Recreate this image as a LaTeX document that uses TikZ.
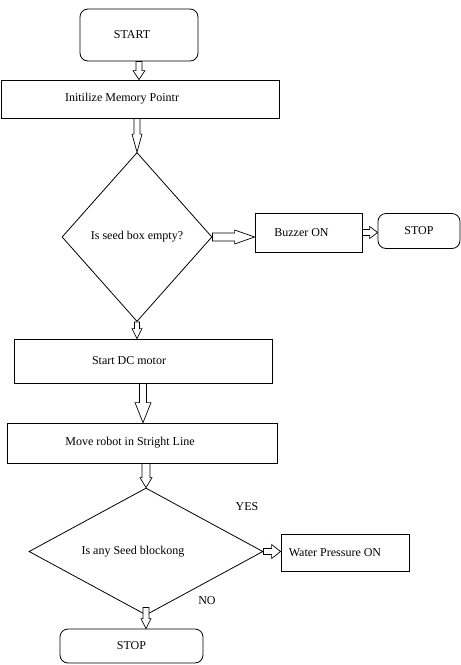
\documentclass[tikz,border=0pt]{standalone}
\usepackage{fontspec}
\setmainfont{Liberation Serif}
\newfontfamily\flowfont{Liberation Serif}
\usetikzlibrary{shapes.geometric, calc, positioning}

\tikzset{
  box/.style={draw, rectangle, line width=0.8pt, inner sep=0pt},
  terminal/.style={box, rounded corners=8pt},
  decision/.style={draw, diamond, line width=0.8pt, inner sep=0pt},
  arrowbody/.style={draw, fill=white, line width=0.7pt, line join=miter}
}

% hollow block arrow: from, to, half shaft, half head, head length
\newcommand{\hollowarrow}[5]{%
  \coordinate (ha) at (#1);
  \coordinate (hb) at (#2);
  \coordinate (hh) at ($(hb)!#5!(ha)$);
  \draw[arrowbody] ($(ha)!#3!90:(hb)$) -- ($(hh)!#3!-90:(ha)$) -- ($(hh)!#4!-90:(ha)$)
    -- (hb) -- ($(hh)!#4!90:(ha)$) -- ($(hh)!#3!90:(ha)$) -- ($(ha)!#3!-90:(hb)$) -- cycle;
}

\begin{document}
\begin{tikzpicture}[x=1pt, y=-1pt, every node/.style={font=\flowfont\fontsize{12}{14}\selectfont}]
    \useasboundingbox (0,0) rectangle (461,665);

    % boxes
    \node[terminal, minimum width=118pt, minimum height=52pt] (start) at (139,35) {START\kern14pt};
    \node[box, minimum width=278pt, minimum height=38pt] (init) at (140,99) {Initilize Memory Pointr\kern36pt};
    \node[decision, minimum width=150pt, minimum height=169pt] (seed) at (137,237) {Is seed box empty?};
    \node[box, minimum width=107pt, minimum height=39pt] (buzzer) at (308.5,232.5) {Buzzer ON\kern14pt};
    \node[terminal, minimum width=82pt, minimum height=35pt] (stopa) at (419,231) {STOP};
    \node[box, minimum width=258pt, minimum height=44pt] (motor) at (143,361) {Start DC motor\kern28pt};
    \node[box, minimum width=270pt, minimum height=40pt] (move) at (142,443) {Move robot in Stright Line\kern24pt};
    \node[decision, shape aspect=2, minimum width=234pt, minimum height=127pt] (block) at (146,551.5) {Is any Seed blockong\kern26pt};
    \node[box, minimum width=128pt, minimum height=37pt] (water) at (345,552.5) {Water Pressure ON\kern20pt};
    \node[terminal, minimum width=143pt, minimum height=34pt] (stopb) at (131.5,646) {STOP};

    \node (yes) at (247,507) {YES};
    \node (no) at (207,601) {NO};

    % arrows
    \hollowarrow{start.south}{start.south |- init.north}{3pt}{6pt}{9pt}
    \hollowarrow{seed.north |- init.south}{seed.north}{3pt}{5pt}{18pt}
    \hollowarrow{seed.east}{seed.east -| buzzer.west}{4pt}{7pt}{20pt}
    \hollowarrow{buzzer.east}{buzzer.east -| stopa.west}{3pt}{6pt}{8pt}
    \hollowarrow{seed.south}{seed.south |- motor.north}{2.5pt}{5pt}{10pt}
    \hollowarrow{motor.south}{motor.south |- move.north}{3.5pt}{8pt}{20pt}
    \hollowarrow{block.north |- move.south}{block.north}{4pt}{6pt}{10pt}
    \hollowarrow{block.east}{block.east -| water.west}{3pt}{7pt}{9pt}
    \hollowarrow{$(block.south)+(0,-8)$}{block.south |- stopb.north}{3pt}{5pt}{10pt}
\end{tikzpicture}
\end{document}
